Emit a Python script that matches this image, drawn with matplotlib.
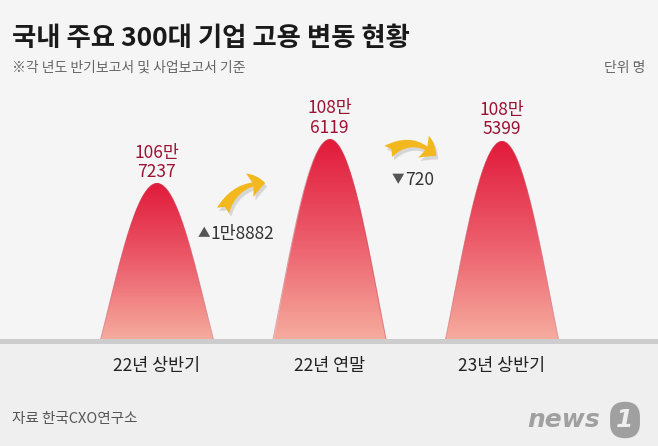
import matplotlib.pyplot as plt
import matplotlib.patheffects as pe
import numpy as np
from matplotlib.colors import LinearSegmentedColormap
from matplotlib.patches import FancyArrowPatch, Rectangle

plt.rcParams['font.family'] = ['Noto Sans CJK KR', 'DejaVu Sans']

# 데이터
periods = ['22년 상반기', '22년 연말', '23년 상반기']
employees = [1067237, 1086119, 1085399]
value_labels = ['106만\n7237', '108만\n6119', '108만\n5399']
change_marks = ['▲', '▼']
change_labels = ['1만8882', '720']

W, H = 658, 446
base = 1_000_000
per_px = 428  # 명 / pixel


def fx(x):
    return x / W


def fy(y):
    return 1 - y / H


fig = plt.figure(figsize=(W / 100, H / 100), dpi=100)
fig.patch.set_facecolor('#f5f5f5')
fig.add_artist(Rectangle((0, 0), 1, fy(342), transform=fig.transFigure,
                         facecolor='#efefef', edgecolor='none', zorder=0))

ax = fig.add_axes([0, fy(341), 1, 251 / H])
ax.axis('off')

# 봉우리 모양 (그라데이션)
hw = 0.33
cmap = LinearSegmentedColormap.from_list('peak', ['#f6ad9f', '#ec5d6b', '#e11a3a'])
nx, ny = 400, 600
u = np.linspace(-1, 1, nx)
shape = np.cos(np.pi * u / 2).clip(0) ** 1.05
rows = (np.arange(ny) + 0.5) / ny
for i, v in enumerate(employees):
    img = cmap(np.repeat(rows[:, None], nx, axis=1))
    img[..., 3] = (rows[:, None] <= shape[None, :]).astype(float)
    ax.imshow(img, extent=[i - hw, i + hw, base, v], origin='lower',
              aspect='auto', interpolation='antialiased', zorder=2)
    xs = np.linspace(-hw, hw, 200)
    ys = base + (v - base) * np.cos(np.pi * xs / (2 * hw)).clip(0) ** 1.05
    ax.plot(i + xs, ys, color='#c0485a', lw=0.6, alpha=0.5, zorder=3)
    ax.text(i, v + 3 * per_px, value_labels[i], ha='center', va='bottom',
            fontsize=12.5, color='#9b1233', linespacing=1.1)
    fig.text(fx(157 + 172.5 * i), fy(366), periods[i], ha='center', va='center',
             fontsize=12.5, color='#222222')
ax.set_xlim(-157 / 172.5, (W - 157) / 172.5)
ax.set_ylim(base, base + 251 * per_px)

# 바닥선
fig.add_artist(Rectangle((0, fy(344)), 1, 5 / H, transform=fig.transFigure,
                         facecolor='#cdcdcd', edgecolor='none', zorder=5))

# 증감 표시
for (x, y), mark, lab in zip([(198, 234), (392, 180)], change_marks, change_labels):
    fig.text(fx(x), fy(y), mark, ha='left', va='center', fontsize=9, color='#555555')
    fig.text(fx(x + 13), fy(y), lab, ha='left', va='center', fontsize=12.5, color='#333333')

for (x1, y1), (x2, y2), rad in [((222, 213), (268, 183), -0.35),
                                ((386, 153), (438, 158), -0.45)]:
    arr = FancyArrowPatch((fx(x1), fy(y1)), (fx(x2), fy(y2)), transform=fig.transFigure,
                          connectionstyle=f'arc3,rad={rad}',
                          arrowstyle='fancy,head_length=0.7,head_width=1.1,tail_width=0.6',
                          mutation_scale=16, color='#f4b81f', lw=0,
                          path_effects=[pe.SimplePatchShadow(offset=(1.5, -2.5), shadow_rgbFace='#b8b8b8', alpha=0.5),
                                        pe.Normal()])
    fig.add_artist(arr)

# 제목
fig.text(fx(12), fy(38), '국내 주요 300대 기업 고용 변동 현황', ha='left', va='center',
         fontsize=19, fontweight='bold', color='#1a1a1a')
fig.text(fx(12), fy(68), '※각 년도 반기보고서 및 사업보고서 기준', ha='left', va='center',
         fontsize=10, color='#666666')
fig.text(fx(645), fy(68), '단위 명', ha='right', va='center', fontsize=10, color='#666666')
fig.text(fx(12), fy(419), '자료 한국CXO연구소', ha='left', va='center', fontsize=10.5, color='#555555')

# 로고
fig.text(fx(600), fy(420), 'news', ha='right', va='center', fontsize=18, fontweight='bold',
         style='italic', color='#a0a0a0', family='DejaVu Sans')
fig.text(fx(625), fy(420), '1', ha='center', va='center', fontsize=18, fontweight='bold',
         style='italic', color='#efefef', family='DejaVu Sans',
         bbox=dict(boxstyle='round,pad=0.25,rounding_size=0.6', fc='#a0a0a0', ec='none'))

fig.savefig('out.png', dpi=100, facecolor=fig.get_facecolor())
